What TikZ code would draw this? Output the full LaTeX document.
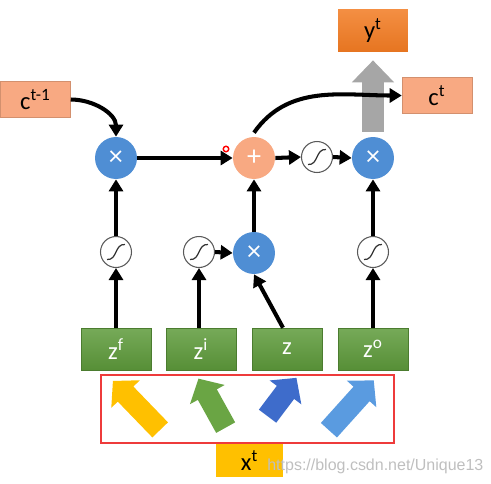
\documentclass[tikz,border=0pt]{standalone}
\usepackage{fontspec}
\setmainfont{Carlito}
\newfontfamily\markfont{Liberation Sans}
\usepackage{xcolor}
\usetikzlibrary{arrows.meta,shapes.arrows}

\definecolor{salmon}{HTML}{F8A982}
\definecolor{gateblue}{HTML}{4F8ED4}
\definecolor{outorange}{HTML}{F27B22}
\definecolor{zgreen}{HTML}{5E9B3B}
\definecolor{xamber}{HTML}{FFC000}
\definecolor{framered}{HTML}{EE3B3B}
\definecolor{ingreen}{HTML}{6AA544}
\definecolor{indark}{HTML}{3E6CCB}
\definecolor{inlight}{HTML}{5A9BE0}
\definecolor{outgray}{HTML}{A6A6A6}

\begin{document}
\begin{tikzpicture}[x=0.02cm, y=-0.02cm,
	every node/.style={font=\fontsize{14}{16}\selectfont},
	statebox/.style={rectangle, fill=salmon, draw=salmon!85!black, line width=0.3pt, minimum width=1.4cm, minimum height=0.72cm, inner sep=0pt},
	zbox/.style={rectangle, top color=zgreen!85!white, bottom color=zgreen!92!black, draw=zgreen!80!black, line width=0.3pt, minimum width=1.4cm, minimum height=0.84cm, text=white, inner sep=0pt},
	opcirc/.style={circle, fill=gateblue, minimum size=0.84cm, inner sep=0pt, text=white, font=\fontsize{16}{16}\selectfont},
	sigcirc/.style={circle, draw=black!65, fill=white, line width=0.6pt, minimum size=0.62cm, inner sep=0pt},
	flow/.style={line width=2.3pt, -{Triangle[length=0.24cm,width=0.28cm]}},
	fatin/.style={single arrow, inner xsep=0pt, inner ysep=0.21cm, single arrow head extend=0.18cm, single arrow tip angle=95}
	]
	\useasboundingbox (0,0) rectangle (491,484);
	
	% Cell state in and out
	\node[statebox] (cprev) at (35.5,99.5) {c\textsuperscript{t-1}};
	\node[statebox] (ct) at (437,95.5) {c\textsuperscript{t}};
	\node[rectangle, top color=outorange!85!white, bottom color=outorange!95!black, minimum width=1.4cm, minimum height=0.86cm, inner sep=0pt] (yt) at (373,30.5) {y\textsuperscript{t}};
	
	% Multiply and add
	\node[opcirc] (mulf) at (116,158) {×};
	\node[opcirc, fill=salmon] (add) at (254,158) {+};
	\node[opcirc] (mulo) at (373,158) {×};
	\node[opcirc] (mulm) at (254,253) {×};
	
	% Sigmoid gates
	\node[sigcirc] (sigc) at (317,157) {};
	\node[sigcirc] (sigf) at (116,252) {};
	\node[sigcirc] (sigi) at (199,252) {};
	\node[sigcirc] (sigo) at (373,252) {};
	\foreach \s in {sigc,sigf,sigi,sigo}
		\draw[line width=0.7pt, black!80] ([shift={(-0.18cm,-0.15cm)}]\s.center) .. controls ([shift={(0.03cm,-0.17cm)}]\s.center) and ([shift={(-0.03cm,0.17cm)}]\s.center) .. ([shift={(0.18cm,0.15cm)}]\s.center);
	
	% Inputs z
	\node[zbox] (zf) at (116,349) {z\textsuperscript{f}};
	\node[zbox] (zi) at (201,349) {z\textsuperscript{i}};
	\node[zbox] (z) at (287,349) {z};
	\node[zbox] (zo) at (373,349) {z\textsuperscript{o}};
	
	% Output arrow to y
	\draw[outgray, line width=0.44cm, -{Triangle[length=0.44cm,width=0.82cm]}, shorten <=0.1cm, shorten >=0.16cm] (mulo.north) -- (yt.south);
	
	% Black arrows
	\draw[flow] (cprev.east) to[out=0,in=90] (mulf.north);
	\draw[flow] (mulf.east) -- (add.west);
	\draw[flow] (add.east) -- (sigc.west);
	\draw[flow] (sigc.east) -- (mulo.west);
	\draw[flow] ([yshift=0.08cm]add.north) to[out=55,in=180] (ct.west);
	\draw[flow] (zf.north) -- (sigf.south);
	\draw[flow] (sigf.north) -- (mulf.south);
	\draw[flow] (sigi.south |- zi.north) -- (sigi.south);
	\draw[flow] (sigi.east) -- (mulm.west);
	\draw[flow] ([xshift=-0.08cm]z.north) -- (mulm.south);
	\draw[flow] (mulm.north) -- (add.south);
	\draw[flow] (zo.north) -- (sigo.south);
	\draw[flow] (sigo.north) -- (mulo.south);
	
	% Cursor mark
	\draw[red, line width=0.8pt, fill=white] (226,149) circle (0.055cm);
	
	% x^t feeding four inputs
	\draw[framered, line width=1.4pt] (101,375) rectangle (394,443);
	\foreach \nm/\px/\py/\ang/\len/\col in {inA/140/409/134/1.36/xamber, inB/214.5/407.5/119/1.12/ingreen, inC/279/401/53/0.96/indark, inD/348/409/48/1.34/inlight}
		\node[fatin, fill=\col, rotate=\ang, minimum height=\len cm] (\nm) at (\px,\py) {};
	\node[rectangle, fill=xamber, minimum width=1.34cm, minimum height=0.66cm, inner sep=0pt] (xt) at (249.5,460.5) {x\textsuperscript{t}};
	
	% Watermark
	\node[anchor=west, inner sep=0pt, text=black!25, font=\markfont\fontsize{9.1}{11}\selectfont] (mark) at (267,466) {https://blog.csdn.net/Unique13};
\end{tikzpicture}
\end{document}
